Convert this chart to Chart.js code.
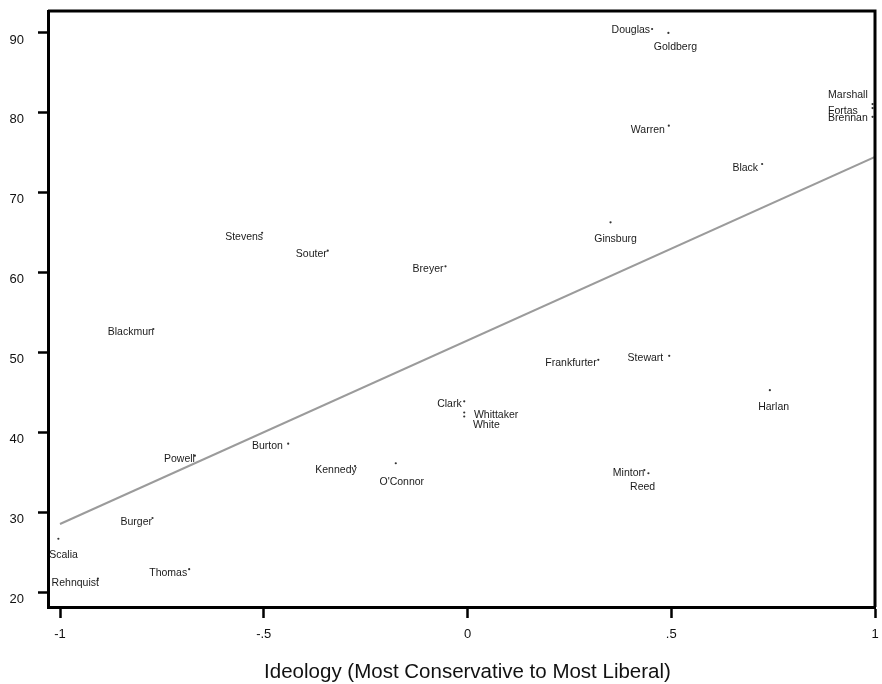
<!DOCTYPE html>
<html>
<head>
<meta charset="utf-8">
<script src="https://cdn.jsdelivr.net/npm/chart.js@4/dist/chart.umd.min.js"></script>
<style>
  html, body { margin: 0; padding: 0; background: #fff; }
  #wrap { width: 882px; height: 684px; position: relative; }
</style>
</head>
<body>
<div id="wrap"><canvas id="c"></canvas></div>
<script>
// Justices: ideology score vs. liberal voting percentage
const justices = ['Douglas', 'Goldberg', 'Marshall', 'Fortas', 'Brennan', 'Warren', 'Black',
  'Ginsburg', 'Stevens', 'Souter', 'Breyer', 'Blackmun', 'Frankfurter', 'Stewart', 'Clark',
  'Whittaker', 'White', 'Harlan', 'Powell', 'Burton', 'Kennedy', "O'Connor", 'Minton', 'Reed',
  'Burger', 'Scalia', 'Thomas', 'Rehnquist'];
const ideology = [0.453, 0.493, 0.994, 0.994, 0.994, 0.494, 0.723,
  0.351, -0.504, -0.343, -0.054, -0.771, 0.321, 0.495, -0.008,
  -0.008, -0.008, 0.742, -0.669, -0.440, -0.276, -0.176, 0.434, 0.444,
  -0.773, -1.004, -0.683, -0.907];
const liberalVotes = [90.5, 90.0, 81.1, 80.6, 79.5, 78.4, 73.6,
  66.3, 65.0, 62.75, 60.8, 52.95, 49.1, 49.6, 43.9,
  42.5, 42.0, 45.3, 37.1, 38.6, 35.8, 36.15, 35.3, 34.9,
  29.3, 26.7, 22.9, 21.7];

// Fitted regression line endpoints
const fitX = [-1, 1];
const fitY = [28.55, 74.5];

const xTicks = [-1, -0.5, 0, 0.5, 1];
const xTickLabels = ['-1', '-.5', '0', '.5', '1'];
const yTicks = [20, 30, 40, 50, 60, 70, 80, 90];
const yTickLabels = ['20', '30', '40', '50', '60', '70', '80', '90'];

const xTitle = 'Ideology (Most Conservative to Most Liberal)';

// Marker label placement: [text alignment, x offset px, y offset px]
const labelPlacement = [
  ['right', -2, 1], ['center', 7, 14], ['left', -44.5, -9], ['left', -44.5, 3.4],
  ['left', -44.5, 1.5], ['right', -4, 4], ['right', -4, 4], ['center', 5, 17],
  ['right', 1, 4], ['right', -1, 3.3], ['right', -2, 3.3], ['right', 0.5, 3.3],
  ['right', -1.6, 3.3], ['right', -6, 2.6], ['right', -2.6, 2.3], ['left', 9.7, 2.3],
  ['left', 8.7, 8.3], ['center', 3.8, 16.7], ['right', 0, 3.3], ['right', -5.3, 2],
  ['right', 1.7, 4], ['center', 6, 19], ['right', 0, 3.5], ['center', -5.8, 14],
  ['right', -0.5, 4.3], ['center', 5.2, 16.3], ['right', -2, 4.3], ['right', 1, 4.3]
];

const FONT = '"Liberation Sans", Arial, Helvetica, sans-serif';

const points = ideology.map((x, i) => ({ x: x, y: liberalVotes[i] }));
const fitPoints = fitX.map((x, i) => ({ x: x, y: fitY[i] }));

// Names next to each marker
const markerLabels = {
  id: 'markerLabels',
  afterDatasetsDraw(chart) {
    const ctx = chart.ctx;
    const meta = chart.getDatasetMeta(1);
    ctx.save();
    ctx.font = '10.5px ' + FONT;
    ctx.fillStyle = '#1a1a1a';
    ctx.textBaseline = 'middle';
    meta.data.forEach((el, i) => {
      const [align, dx, dy] = labelPlacement[i];
      ctx.textAlign = align;
      ctx.fillText(justices[i], el.x + dx, el.y + dy);
    });
    ctx.restore();
  }
};

// Top/right frame lines and the x-axis title
const frame = {
  id: 'frame',
  afterDraw(chart) {
    const { ctx, chartArea: a } = chart;
    ctx.save();
    ctx.strokeStyle = '#000';
    ctx.lineWidth = 3;
    ctx.beginPath();
    ctx.moveTo(a.left, a.top);
    ctx.lineTo(a.right, a.top);
    ctx.lineTo(a.right, a.bottom);
    ctx.stroke();
    ctx.font = '20.5px ' + FONT;
    ctx.fillStyle = '#111';
    ctx.textAlign = 'center';
    ctx.textBaseline = 'middle';
    ctx.fillText(xTitle, chart.scales.x.getPixelForValue(0), a.bottom + 65);
    ctx.restore();
  }
};

new Chart(document.getElementById('c'), {
  data: {
    datasets: [
      {
        type: 'line',
        data: fitPoints,
        borderColor: '#9b9b9b',
        borderWidth: 2,
        pointRadius: 0,
        fill: false
      },
      {
        type: 'scatter',
        data: points,
        backgroundColor: '#333',
        borderWidth: 0,
        pointRadius: 1.1,
        clip: false
      }
    ]
  },
  options: {
    responsive: true,
    maintainAspectRatio: false,
    animation: false,
    events: [],
    layout: { autoPadding: false, padding: { top: 11, right: 7, left: 0, bottom: 0 } },
    plugins: { legend: { display: false }, tooltip: { enabled: false } },
    scales: {
      x: {
        type: 'linear',
        min: -1.02945,
        max: 1.0,
        afterBuildTicks: s => { s.ticks = xTicks.map(v => ({ value: v })); },
        afterFit: s => {
          s.height = 77;
          s.paddingLeft = 0; s.paddingRight = 0; s.paddingTop = 0; s.paddingBottom = 0;
        },
        ticks: {
          callback: v => xTickLabels[xTicks.indexOf(v)],
          font: { family: FONT, size: 13 },
          color: '#111',
          padding: 9,
          maxRotation: 0,
          autoSkip: false
        },
        grid: { drawOnChartArea: false, drawTicks: true, tickLength: 11, tickWidth: 2.5, tickColor: '#000' },
        border: { display: true, width: 3, color: '#000' }
      },
      y: {
        type: 'linear',
        min: 18.16,
        max: 92.75,
        afterBuildTicks: s => { s.ticks = yTicks.map(v => ({ value: v })); },
        afterFit: s => {
          s.width = 48;
          s.paddingLeft = 0; s.paddingRight = 0; s.paddingTop = 0; s.paddingBottom = 0;
        },
        ticks: {
          callback: v => yTickLabels[yTicks.indexOf(v)],
          font: { family: FONT, size: 13 },
          color: '#111',
          padding: 14,
          labelOffset: 7,
          autoSkip: false
        },
        grid: { drawOnChartArea: false, drawTicks: true, tickLength: 10, tickWidth: 2.5, tickColor: '#000' },
        border: { display: true, width: 3, color: '#000' }
      }
    }
  },
  plugins: [markerLabels, frame]
});
</script>
</body>
</html>
